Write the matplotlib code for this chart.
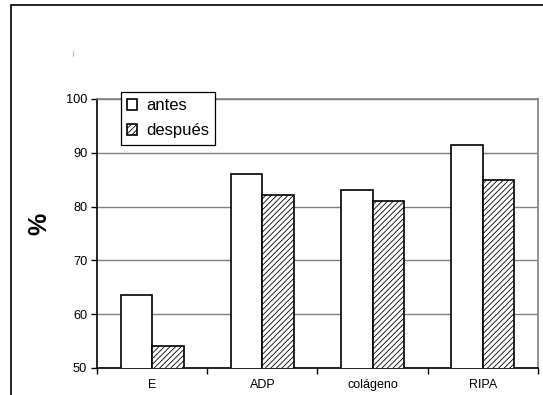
import matplotlib
matplotlib.use("Agg")
import matplotlib.pyplot as plt
from matplotlib.patches import Rectangle
import numpy as np

plt.rcParams['font.family'] = ['Liberation Sans', 'DejaVu Sans']
plt.rcParams['hatch.linewidth'] = 0.6
plt.rcParams['hatch.color'] = '#333333'

categories = ["E", "ADP", "colágeno", "RIPA"]
antes = [63.5, 86.1, 83.0, 91.4]
despues = [54.1, 82.2, 81.0, 84.9]
y_ticks = [50, 60, 70, 80, 90, 100]


def plot_bars(out_name="out"):
    fig = plt.figure(figsize=(5.43, 3.95), dpi=100)
    ax = fig.add_axes([0.1786, 0.0684, 0.8122, 0.681])

    # outer chart frame (cut off at the right and bottom)
    fig.patches.append(Rectangle((11 / 543, -0.1), 1.1, 1.1 - 4.5 / 395,
                                 transform=fig.transFigure, fill=False,
                                 edgecolor='black', linewidth=1.2))

    x = np.arange(len(categories))
    w = 0.286
    ax.bar(x - w / 2, antes, w, color='white', edgecolor='black',
           linewidth=1.2, label='antes', zorder=3)
    ax.bar(x + w / 2, despues, w, color='white', edgecolor='black',
           hatch='//////', linewidth=1.2, label='después', zorder=3)

    ax.set_xlim(-0.5, len(categories) - 0.5)
    ax.set_ylim(50, 100)
    ax.set_yticks(y_ticks)
    ax.set_yticklabels([str(t) for t in y_ticks], fontsize=9.2)
    ax.yaxis.grid(True, color='#808080', linewidth=1.0, zorder=0)

    ax.set_xticks(x)
    ax.set_xticklabels(categories, fontsize=9)
    ax.tick_params(axis='x', length=0, pad=8)
    ax.set_xticks(np.arange(len(categories) + 1) - 0.5, minor=True)
    ax.tick_params(axis='x', which='minor', length=4, width=1.0, direction='out')
    ax.tick_params(axis='y', length=4, width=1.0, direction='out', pad=3)

    for side in ['top', 'right']:
        ax.spines[side].set_color('#808080')
        ax.spines[side].set_linewidth(1.2)
    for side in ['left', 'bottom']:
        ax.spines[side].set_color('black')
        ax.spines[side].set_linewidth(1.2)

    ax.set_ylabel('%', fontsize=18, fontweight='bold')
    ax.yaxis.set_label_coords(-0.104, 0.535)

    leg = ax.legend(loc='upper left', bbox_to_anchor=(0.054, 1.027),
                    borderaxespad=0, fancybox=False, framealpha=1,
                    edgecolor='black', fontsize=12, handlelength=0.55,
                    handleheight=0.55, handletextpad=0.55, labelspacing=0.6,
                    borderpad=0.4)
    leg.get_frame().set_linewidth(0.9)
    leg.set_zorder(5)

    # small stray mark near the top left
    fig.add_artist(plt.Line2D([73 / 543, 73 / 543], [1 - 51 / 395, 1 - 56 / 395],
                              color='#bbbbbb', linewidth=0.8))

    fig.savefig(f"{out_name}.png", dpi=100)


def main():
    plot_bars()


if __name__ == "__main__":
    main()
